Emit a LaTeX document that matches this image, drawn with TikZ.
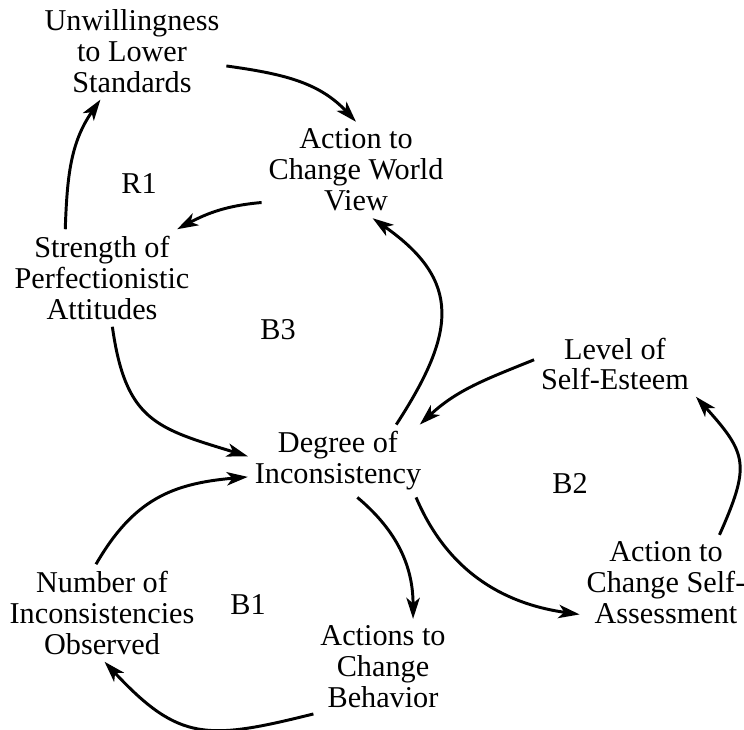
\documentclass[tikz,border=0pt]{standalone}
\usepackage{fontspec}
\setmainfont{Liberation Serif}
\usetikzlibrary{arrows.meta}

\begin{document}
\begin{tikzpicture}
[x=0.025cm, y=-0.025cm,
var/.style={align=center, inner sep=2pt, outer sep=3pt, font=\fontsize{21.5}{22}\selectfont},
loop/.style={font=\fontsize{21.5}{22}\selectfont},
link/.style={-{Stealth[length=15pt, width=9.5pt, inset=4pt]}, line width=2.1pt}]
\useasboundingbox (0,0) rectangle (744,730);
\node[var] (unw) at (132,51) {Unwillingness\\to Lower\\Standards};
\node[var] (awv) at (356,170) {Action to\\Change World\\View};
\node[var] (spa) at (102,278) {Strength of\\Perfectionistic\\Attitudes};
\node[var] (lse) at (615,364) {Level of\\Self-Esteem};
\node[var] (doi) at (338,461) {Degree of\\Inconsistency};
\node[var] (nio) at (102,613) {Number of\\Inconsistencies\\Observed};
\node[var] (acb) at (383,667) {Actions to\\Change\\Behavior};
\node[var] (acs) at (666,583) {Action to\\Change Self-\\Assessment};
\node[loop] (r1) at (139,184) {R1};
\node[loop] (b3) at (278,330) {B3};
\node[loop] (b2) at (570,484) {B2};
\node[loop] (b1) at (248,605) {B1};
\draw[link] (unw.-9) to[out=-8, in=133] (awv.north);
\draw[link] (awv.199) to[out=185, in=28] (spa.33);
\draw[link] (spa.127) to[out=88, in=235] (unw.237);
\draw[link] (spa.-78) to[out=-82, in=163, looseness=1.3] (doi.177);
\draw[link] (nio.97) to[out=60, in=185, looseness=1.1] (doi.190);
\draw[link] (doi.32) to[out=57, in=-35, looseness=1.35] (awv.-71);
\draw[link] (lse.177) to[out=202, in=43] (doi.24);
\draw[link] (doi.-62) to[out=-40, in=90] (acb.58);
\draw[link] (doi.-25) to[out=-67, in=172] (acs.200);
\draw[link] (acs.42) to[out=66, in=-48, looseness=1.4] (lse.-22);
\draw[link] (acb.214) to[out=194, in=-47, looseness=1.3] (nio.-87);
\end{tikzpicture}
\end{document}
